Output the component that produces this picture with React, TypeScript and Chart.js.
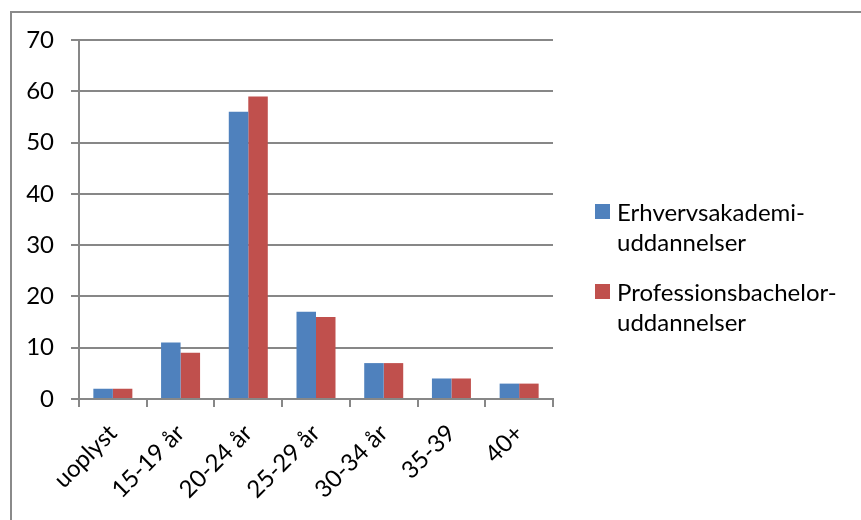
import React, { useEffect, useRef } from "react";
import { Chart, registerables } from "chart.js";

Chart.register(...registerables);

const categories = ["uoplyst", "15-19 år", "20-24 år", "25-29 år", "30-34 år", "35-39", "40+"];
const erhvervsakademi = [2, 11, 56, 17, 7, 4, 3];
const professionsbachelor = [2, 9, 59, 16, 7, 4, 3];
const seriesNames = ["Erhvervsakademi-\nuddannelser", "Professionsbachelor-\nuddannelser"];
const seriesColors = ["#4F81BD", "#C0504D"];
const yMin = 0;
const yMax = 70;
const yStep = 10;

const FONT = "Lato, 'Open Sans', sans-serif";
const GRID = "#878787";
const FS = 24;

const legendPlugin = {
  id: "customLegend",
  afterDraw(chart: any) {
    const ctx = chart.ctx;
    const x0 = chart.chartArea.right + 42;
    let y = 204;
    ctx.save();
    chart.data.datasets.forEach((ds: any) => {
      ctx.fillStyle = ds.backgroundColor;
      ctx.fillRect(x0, y, 15, 15);
      ctx.fillStyle = "#000";
      ctx.font = `${FS}px ${FONT}`;
      ctx.textBaseline = "middle";
      ctx.textAlign = "left";
      String(ds.label)
        .split("\n")
        .forEach((line: string, j: number) => {
          ctx.fillText(line, x0 + 22, y + 9 + j * 30);
        });
      y += 80;
    });
    ctx.restore();
  },
};

export default function App() {
  const ref = useRef<HTMLCanvasElement | null>(null);

  useEffect(() => {
    document.body.style.margin = "0";
    if (!ref.current) return;
    const chart = new Chart(ref.current, {
      type: "bar",
      data: {
        labels: categories,
        datasets: [
          {
            label: seriesNames[0],
            data: erhvervsakademi,
            backgroundColor: seriesColors[0],
            categoryPercentage: 0.576,
            barPercentage: 1,
          },
          {
            label: seriesNames[1],
            data: professionsbachelor,
            backgroundColor: seriesColors[1],
            categoryPercentage: 0.576,
            barPercentage: 1,
          },
        ],
      },
      options: {
        responsive: false,
        animation: false,
        devicePixelRatio: 1,
        layout: { padding: { top: 40, right: 308, left: 0, bottom: 0 } },
        plugins: {
          legend: { display: false },
          tooltip: { enabled: false },
        },
        scales: {
          x: {
            offset: true,
            grid: {
              display: true,
              drawOnChartArea: false,
              drawTicks: true,
              tickLength: 8,
              color: GRID,
              lineWidth: 2,
              offset: true,
            },
            border: { display: true, color: GRID, width: 2 },
            ticks: {
              autoSkip: false,
              minRotation: 45,
              maxRotation: 45,
              padding: 12,
              color: "#000",
              font: { family: FONT, size: FS },
            },
            afterFit: (s: any) => {
              s.height = 121;
            },
          },
          y: {
            min: yMin,
            max: yMax,
            grid: {
              color: GRID,
              lineWidth: 2,
              tickLength: 8,
              drawTicks: true,
            },
            border: { display: true, color: GRID, width: 2 },
            ticks: {
              stepSize: yStep,
              padding: 17,
              color: "#000",
              font: { family: FONT, size: FS },
            },
            afterFit: (s: any) => {
              s.width = 79;
            },
          },
        },
      },
      plugins: [legendPlugin],
    });
    return () => chart.destroy();
  }, []);

  return (
    <div style={{ position: "fixed", left: 0, top: 0, width: 861, height: 520, background: "#fff", overflow: "hidden" }}>
      <div
        style={{
          position: "absolute",
          left: 10,
          top: 11,
          width: 900,
          height: 600,
          borderLeft: "2px solid #8a8a8a",
          borderTop: "2px solid #8a8a8a",
        }}
      />
      <canvas ref={ref} width={861} height={520} style={{ position: "absolute", left: 0, top: 0, width: 861, height: 520 }} />
    </div>
  );
}
